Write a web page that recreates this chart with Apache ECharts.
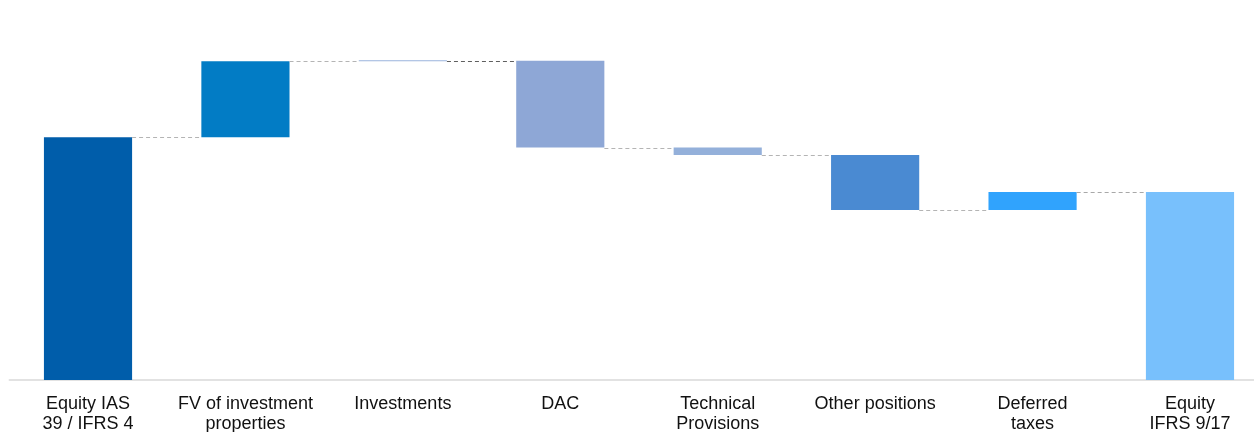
<!DOCTYPE html>
<html>
<head>
<meta charset="utf-8">
<script src="https://cdn.jsdelivr.net/npm/echarts@6/dist/echarts.min.js"></script>
<style>
  html, body { margin: 0; padding: 0; background: #ffffff; }
  #frame { position: relative; width: 1254px; height: 432px; overflow: hidden; }
  #chart { position: absolute; left: 0; top: 0; width: 1270px; height: 432px; }
</style>
</head>
<body>
<div id="frame"><div id="chart"></div></div>
<script>
// Equity bridge: opening equity, changes by item, closing equity
const categories = [
  'Equity IAS\n39 / IFRS 4',
  'FV of investment\nproperties',
  'Investments',
  'DAC',
  'Technical\nProvisions',
  'Other positions',
  'Deferred\ntaxes',
  'Equity\nIFRS 9/17'
];
const openingEquity = 100;
const changes = [31.3, 0.2, -35.8, -3.1, -22.6, 7.4];
const closingEquity = 77.4;

const barColors = ['#005DAA', '#027CC5', '#9AB3DC', '#8EA7D6', '#94B0DA', '#4A8AD2', '#30A3FD', '#78C0FC'];
const connectorColors = ['#b4b4b4', '#b4b4b4', '#5f5f5f', '#b4b4b4', '#b4b4b4', '#b4b4b4', '#a8a8a8'];

// Build invisible bases, visible segments and running levels
const bases = [0];
const heights = [openingEquity];
const levels = [openingEquity];
let running = openingEquity;
changes.forEach(d => {
  const next = running + d;
  bases.push(Math.min(running, next));
  heights.push(Math.abs(d));
  running = next;
  levels.push(running);
});
bases.push(0);
heights.push(closingEquity);

const barWidthRatio = 0.56;

const chart = echarts.init(document.getElementById('chart'), null, { renderer: 'canvas', width: 1270, height: 432 });
chart.setOption({
  animation: false,
  backgroundColor: '#ffffff',
  grid: { left: 9.3, width: 1259.4, top: 40, bottom: 52, containLabel: false, outerBoundsMode: 'none' },
  xAxis: {
    type: 'category',
    data: categories,
    axisLine: { show: true, lineStyle: { color: '#d9d9d9', width: 1.5 } },
    axisTick: { show: false },
    axisLabel: {
      interval: 0,
      margin: 14,
      color: '#111111',
      fontFamily: '"Liberation Sans", Arial, sans-serif',
      fontSize: 18,
      lineHeight: 20
    }
  },
  yAxis: {
    type: 'value',
    min: 0,
    max: 140,
    show: false
  },
  series: [
    {
      name: 'base',
      type: 'bar',
      stack: 'bridge',
      barWidth: (barWidthRatio * 100) + '%',
      itemStyle: { color: 'transparent' },
      emphasis: { disabled: true },
      data: bases
    },
    {
      name: 'value',
      type: 'bar',
      stack: 'bridge',
      barWidth: (barWidthRatio * 100) + '%',
      barMinHeight: 1,
      emphasis: { disabled: true },
      data: heights.map((v, i) => ({ value: v, itemStyle: { color: barColors[i] } }))
    },
    {
      name: 'connectors',
      type: 'custom',
      silent: true,
      z: 5,
      data: levels.map((lv, i) => [i, lv]),
      renderItem: function (params, api) {
        const i = api.value(0);
        const p = api.coord([i, api.value(1)]);
        const w = api.size([1, 0])[0];
        const half = w * barWidthRatio / 2;
        const y = Math.round(p[1]) + 0.5;
        return {
          type: 'line',
          shape: { x1: p[0] + half, y1: y, x2: p[0] + w - half, y2: y },
          style: {
            stroke: connectorColors[i],
            lineWidth: 1,
            lineDash: [4, 3]
          }
        };
      }
    }
  ]
});
</script>
</body>
</html>
